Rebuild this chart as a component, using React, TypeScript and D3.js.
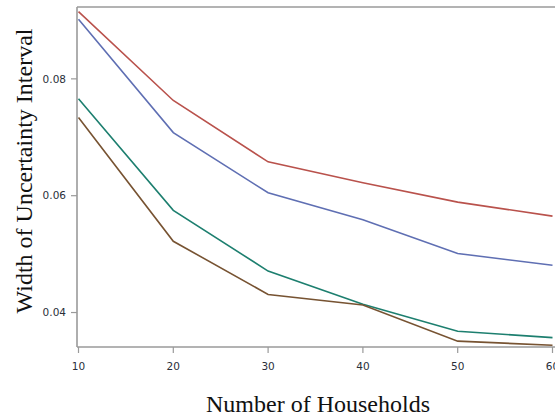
import React from "react";
import * as d3 from "d3";

const households = [10, 20, 30, 40, 50, 60];
const seriesRed = [0.0915, 0.0763, 0.0658, 0.0622, 0.0589, 0.0565];
const seriesBlue = [0.0902, 0.0708, 0.0605, 0.0559, 0.0501, 0.0481];
const seriesTeal = [0.0766, 0.0575, 0.0471, 0.0414, 0.0368, 0.0357];
const seriesBrown = [0.0734, 0.0522, 0.0431, 0.0413, 0.0351, 0.0344];
const yTicks = [0.04, 0.06, 0.08];
const xTicks = [10, 20, 30, 40, 50, 60];

const series = [
  { values: seriesRed, color: "#b9524c" },
  { values: seriesBlue, color: "#5f6fb3" },
  { values: seriesTeal, color: "#1d7f6f" },
  { values: seriesBrown, color: "#775332" },
];

const W = 555;
const H = 420;
const left = 77;
const top = 7;
const bottom = 347;

export default function App() {
  const x = d3.scaleLinear().domain([10, 60]).range([78.5, 552.5]);
  const y = d3.scaleLinear().domain([0.0341, 0.0923]).range([bottom, top]);
  const line = d3
    .line<number>()
    .x((_, i) => x(households[i]))
    .y((v) => y(v));
  const axisColor = "#9a9a9a";
  const tickFont = "'DejaVu Sans', 'Open Sans', sans-serif";
  const titleFont = "'Liberation Serif', 'Times New Roman', serif";
  return (
    <svg
      width={W}
      height={H}
      style={{ position: "absolute", left: 0, top: 0, background: "#fff" }}
    >
      {/* frame: top edge, left axis, bottom axis */}
      <line x1={left} x2={W} y1={top} y2={top} stroke={axisColor} strokeWidth={1.6} />
      <line x1={left} x2={left} y1={top} y2={bottom} stroke={axisColor} strokeWidth={1.6} />
      <line x1={left} x2={W} y1={bottom} y2={bottom} stroke={axisColor} strokeWidth={1.6} />

      {yTicks.map((t) => (
        <g key={t}>
          <line x1={left - 6} x2={left} y1={y(t)} y2={y(t)} stroke={axisColor} strokeWidth={1.2} />
          <text
            x={left - 11}
            y={y(t) + 3.8}
            textAnchor="end"
            fontSize={10.5}
            fontFamily={tickFont}
            fill="#2a2f3a"
          >
            {t.toFixed(2)}
          </text>
        </g>
      ))}

      {xTicks.map((t) => (
        <g key={t}>
          <line x1={x(t)} x2={x(t)} y1={bottom} y2={bottom + 6} stroke={axisColor} strokeWidth={1.2} />
          <text
            x={x(t)}
            y={370}
            textAnchor="middle"
            fontSize={10.5}
            fontFamily={tickFont}
            fill="#2a2f3a"
          >
            {t}
          </text>
        </g>
      ))}

      {series.map((s, i) => (
        <path
          key={i}
          d={line(s.values) ?? ""}
          fill="none"
          stroke={s.color}
          strokeWidth={1.6}
        />
      ))}

      <text
        x={318}
        y={412}
        textAnchor="middle"
        fontSize={24}
        fontFamily={titleFont}
        fill="#111"
      >
        Number of Households
      </text>
      <text
        transform={`translate(32, 171) rotate(-90)`}
        textAnchor="middle"
        fontSize={24}
        fontFamily={titleFont}
        fill="#111"
      >
        Width of Uncertainty Interval
      </text>
    </svg>
  );
}
